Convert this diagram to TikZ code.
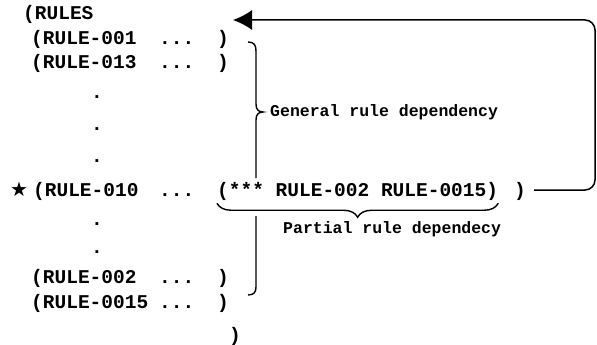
\documentclass[tikz,border=0pt]{standalone}
\usepackage{fontspec}
\newfontfamily\lispfont{Liberation Mono}
\newfontfamily\symfont{DejaVu Sans}
\usetikzlibrary{arrows.meta}
\usetikzlibrary{decorations.pathreplacing}
\tikzstyle{lisp}=[anchor=base west, inner sep=0pt, font=\lispfont\bfseries\fontsize{19.5}{19.5}\selectfont]
\tikzstyle{lispdot}=[anchor=base, inner sep=0pt, font=\lispfont\bfseries\fontsize{19.5}{19.5}\selectfont]
\tikzstyle{remark}=[anchor=base west, inner sep=0pt, font=\lispfont\bfseries\fontsize{16.5}{16.5}\selectfont]
\tikzstyle{star}=[inner sep=0pt, font=\symfont\fontsize{20}{20}\selectfont]
\tikzstyle{brace}=[draw=black, line width=1.4pt]
\tikzstyle{arrow}=[draw=black, line width=1.5pt]

\begin{document}
\begin{tikzpicture}[x=1pt, y=-1pt]
	\useasboundingbox (0,0) rectangle (597,345);
	\begin{scope}
		\node (rules) at (23,20)[lisp] {(RULES};
		\node (r001) at (31,45)[lisp] {(RULE-001};
		\node (e001) at (159,45)[lisp] {...};
		\node (c001) at (217,45)[lisp] {)};
		\node (r013) at (31,69)[lisp] {(RULE-013};
		\node (e013) at (159,69)[lisp] {...};
		\node (c013) at (217,69)[lisp] {)};
		\node (d1) at (97,98)[lispdot] {.};
		\node (d2) at (97,130)[lispdot] {.};
		\node (d3) at (97,162)[lispdot] {.};
		\node (mark) at (19,189)[star] {★};
		\node (r010) at (33,196)[lisp] {(RULE-010};
		\node (e010) at (159,196)[lisp] {...};
		\node (dep) at (217,196)[lisp] {(*** RULE-002 RULE-0015)};
		\node (c010) at (514,196)[lisp] {)};
		\node (d4) at (97,225)[lispdot] {.};
		\node (d5) at (97,253)[lispdot] {.};
		\node (r002) at (31,283)[lisp] {(RULE-002};
		\node (e002) at (159,283)[lisp] {...};
		\node (c002) at (217,283)[lisp] {)};
		\node (r015) at (31,308)[lisp] {(RULE-0015};
		\node (e015) at (159,308)[lisp] {...};
		\node (c015) at (217,308)[lisp] {)};
		\node (crules) at (229,341)[lisp] {)};
		\node (general) at (270,116)[remark] {General rule dependency};
		\node (partial) at (283,233)[remark] {Partial rule dependecy};
	\end{scope}
	\begin{scope}
		% general rule brace, cut where it meets RULE-010
		\coordinate (gtop) at (248,42);
		\coordinate (gtip) at (263,112);
		\coordinate (gcut1) at (256,178);
		\coordinate (gcut2) at (256,216);
		\coordinate (gbot) at (248,295);
		\draw [brace] (gtop) .. controls (254,42) and (256,45) .. (256,51) -- (256,104)
			.. controls (256,109) and (258,112) .. (gtip)
			.. controls (258,112) and (256,115) .. (256,120) -- (gcut1);
		\draw [brace] (gcut2) -- (256,287) .. controls (256,292) and (254,295) .. (gbot);
		% partial rule brace
		\draw [brace, decorate, decoration={brace, mirror, amplitude=14pt}]
			([yshift=-3pt]dep.south west) -- ([yshift=-3pt]dep.south east);
		% loop back to (RULES
		\coordinate (turn1) at (595,190);
		\coordinate (turn2) at (595,20);
		\coordinate (back) at (233,20);
		\draw [arrow, -{Latex[length=19pt,width=20pt]}, rounded corners=10pt] ([xshift=8pt]c010.east |- turn1) -- (turn1) -- (turn2) -- (back);
	\end{scope}
\end{tikzpicture}
\end{document}
